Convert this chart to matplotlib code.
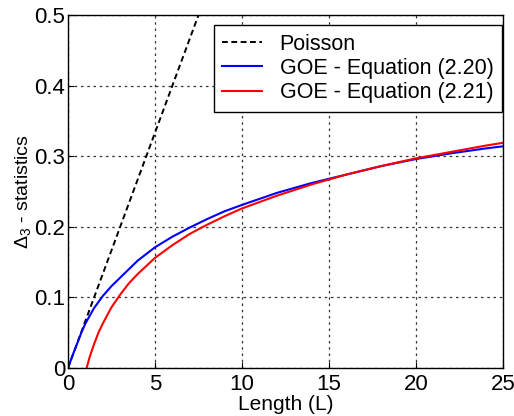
import matplotlib
matplotlib.use("Agg")
import matplotlib.pyplot as plt

plt.rcParams['font.family'] = ['Liberation Sans', 'DejaVu Sans']
plt.rcParams['mathtext.fontset'] = 'custom'
plt.rcParams['mathtext.rm'] = 'Liberation Sans'
plt.rcParams['mathtext.it'] = 'Liberation Sans'

# Data
poisson_L = [0, 7.5]
poisson_v = [0.0, 0.5]

goe20_L = [0, 0.25, 0.5, 0.75, 1, 1.5, 2, 2.5, 3, 4, 5, 6, 7, 8, 9, 10, 12, 14, 16, 18, 20, 22, 24, 25]
goe20_v = [0.0, 0.017, 0.033, 0.049, 0.063, 0.085, 0.102, 0.116, 0.128, 0.152, 0.171, 0.186, 0.199, 0.211, 0.222, 0.231,
           0.248, 0.262, 0.274, 0.286, 0.296, 0.304, 0.311, 0.314]

goe21_L = [1.07, 1.25, 1.5, 1.75, 2, 2.5, 3, 3.5, 4, 5, 6, 7, 8, 9, 10, 12, 14, 16, 18, 20, 22, 24, 25]
goe21_v = [0.0, 0.016, 0.034, 0.050, 0.063, 0.086, 0.104, 0.120, 0.133, 0.156, 0.174, 0.190, 0.203, 0.215, 0.226,
           0.244, 0.260, 0.274, 0.286, 0.297, 0.306, 0.315, 0.319]

xticks = [0, 5, 10, 15, 20, 25]
yticks = [0, 0.1, 0.2, 0.3, 0.4, 0.5]
ytick_labels = ['0', '0.1', '0.2', '0.3', '0.4', '0.5']

fig = plt.figure(figsize=(5.14, 4.16), dpi=100)
ax = fig.add_axes([68/514, 48/416, 435/514, 353/416])

ax.plot(poisson_L, poisson_v, color='black', linestyle='--', linewidth=1.4, label='Poisson', dashes=(3, 1.8))
ax.plot(goe20_L, goe20_v, color='#0000ff', linewidth=1.5, label='GOE - Equation (2.20)')
ax.plot(goe21_L, goe21_v, color='#ff0000', linewidth=1.5, label='GOE - Equation (2.21)')

ax.set_xlim(0, 25)
ax.set_ylim(0, 0.5)
ax.set_xticks(xticks)
ax.set_yticks(yticks)
ax.set_yticklabels(ytick_labels)
ax.tick_params(direction='in', length=4, labelsize=16)
ax.tick_params(axis='x', pad=4)
ax.tick_params(axis='y', pad=2)
ax.grid(True, color='#333333', linestyle=(0, (2, 3)), linewidth=0.9)
for s in ax.spines.values():
    s.set_linewidth(1.0)

ax.set_xlabel('Length (L)', fontsize=15, labelpad=0)
ax.set_ylabel(r'$\Delta_3$ - statistics', fontsize=14, labelpad=1)

leg = ax.legend(loc='upper right', bbox_to_anchor=((502-68)/435, (368-25)/353), fontsize=15.5,
                fancybox=False, framealpha=1, edgecolor='black', borderaxespad=0.0,
                handlelength=1.85, handletextpad=0.8, borderpad=0.4, labelspacing=0.15)
leg.get_frame().set_linewidth(1.0)

fig.savefig('out.png', dpi=100)
